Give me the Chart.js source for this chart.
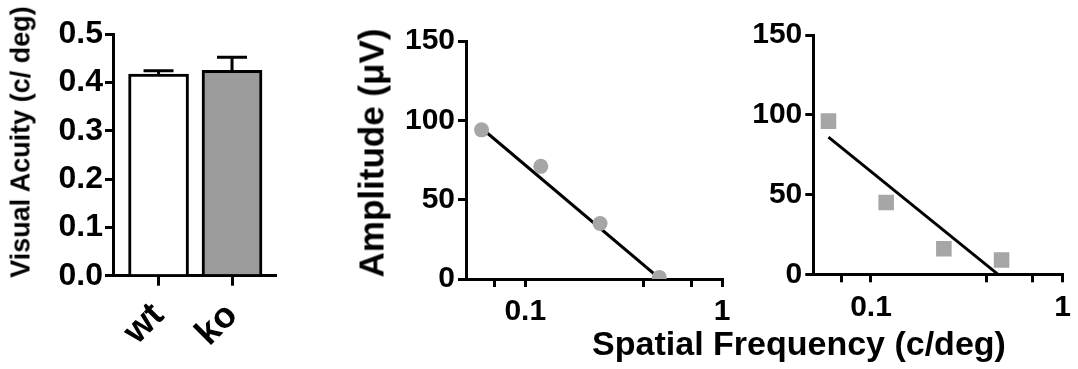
<!DOCTYPE html>
<html lang="en">
<head>
<meta charset="UTF-8">
<title>Visual Acuity and Amplitude</title>
<script src="https://cdn.jsdelivr.net/npm/chart.js"></script>
<style>
  body {
    margin: 0;
    background: #fff;
    width: 1078px;
    height: 369px;
    position: relative;
    overflow: hidden;
    font-family: "Liberation Sans", Arial, sans-serif;
  }
  canvas { position: absolute; top: 0; }
  .title {
    position: absolute;
    font-weight: bold;
    white-space: nowrap;
    line-height: 1;
    color: #000;
  }
  .rot { transform: translate(-50%, -50%) rotate(-90deg); }
</style>
</head>
<body>

<canvas id="acuityChart" width="300" height="369" style="left:0"></canvas>
<canvas id="wtChart" width="400" height="369" style="left:340px"></canvas>
<canvas id="koChart" width="338" height="369" style="left:740px"></canvas>

<div class="title rot" style="left:21px; top:142px; font-size:27px">Visual Acuity (c/ deg)</div>
<div class="title rot" style="left:371px; top:153px; font-size:35px">Amplitude (μV)</div>
<div class="title" style="left:799px; top:326px; font-size:34px; transform:translateX(-50%)">Spatial Frequency (c/deg)</div>

<script>
  // bar panel
  const groups = ['wt', 'ko'];
  const acuity = [0.417, 0.425];
  const acuityErr = [0.007, 0.027];
  const acuityTicks = [0, 0.1, 0.2, 0.3, 0.4, 0.5];

  // amplitude panels
  const freqs = [0.06, 0.12, 0.24, 0.48];
  const wtAmp = [94, 71, 35, 1];
  const koAmp = [96, 45, 16, 9];
  const wtFitX = [0.06, 0.48];
  const wtFitY = [95, 0.5];
  const koFitX = [0.06, 0.46];
  const koFitY = [86, 0];
  const freqTicks = [0.07, 0.1, 0.4, 0.7, 1];
  const freqLabels = { 0.1: '0.1', 1: '1' };
  const ampTicks = [0, 50, 100, 150];

  const FONT = '"Liberation Sans", Arial, sans-serif';
  Chart.defaults.color = '#000';

  function fixSize(size) {
    return scale => {
      if (scale.isHorizontal()) scale.height = size;
      else scale.width = size;
    };
  }

  function axisLines(tickLength) {
    return {
      grid: { drawOnChartArea: false, drawTicks: true, color: '#000', lineWidth: 3, tickLength: tickLength, offset: false },
      border: { color: '#000', width: 3 }
    };
  }

  const errorBars = {
    id: 'errorBars',
    afterDatasetsDraw(chart) {
      const { ctx, scales: { x, y } } = chart;
      ctx.save();
      ctx.strokeStyle = '#000';
      ctx.lineWidth = 3;
      acuity.forEach((v, i) => {
        const px = x.getPixelForValue(i);
        const base = y.getPixelForValue(v);
        const top = y.getPixelForValue(v + acuityErr[i]);
        ctx.beginPath();
        ctx.moveTo(px, base);
        ctx.lineTo(px, top);
        ctx.moveTo(px - 15, top);
        ctx.lineTo(px + 15, top);
        ctx.stroke();
      });
      ctx.restore();
    }
  };

  new Chart(document.getElementById('acuityChart'), {
    type: 'bar',
    data: {
      datasets: [{
        data: groups.map((g, i) => ({ x: i, y: acuity[i] })),
        backgroundColor: ['#ffffff', '#9b9b9b'],
        borderColor: '#000',
        borderWidth: 3,
        barThickness: 60
      }]
    },
    options: {
      responsive: false,
      animation: false,
      devicePixelRatio: 1,
      layout: { padding: { top: 34, right: 25, bottom: 0, left: 0 } },
      plugins: { legend: { display: false }, tooltip: { enabled: false } },
      scales: {
        x: {
          type: 'linear',
          min: -0.62,
          max: 1.585,
          offset: false,
          afterBuildTicks: s => { s.ticks = groups.map((g, i) => ({ value: i })); },
          afterFit: fixSize(93.3),
          ...axisLines(10),
          ticks: {
            autoSkip: false,
            minRotation: 45,
            maxRotation: 45,
            padding: 9,
            font: { family: FONT, size: 36, weight: 'bold' },
            callback: v => groups[v]
          }
        },
        y: {
          min: 0,
          max: 0.5,
          afterBuildTicks: s => { s.ticks = acuityTicks.map(v => ({ value: v })); },
          afterFit: fixSize(113),
          ...axisLines(8),
          ticks: {
            padding: 2,
            font: { family: FONT, size: 32, weight: 'bold' },
            callback: v => v.toFixed(1)
          }
        }
      }
    },
    plugins: [errorBars]
  });

  function ampChart(id, amps, fitX, fitY, pointStyle, radius, opts) {
    return new Chart(document.getElementById(id), {
      type: 'scatter',
      data: {
        datasets: [{
          data: freqs.map((f, i) => ({ x: f, y: amps[i] })),
          pointStyle: pointStyle,
          radius: radius,
          backgroundColor: '#a6a6a6',
          borderWidth: 0
        }, {
          type: 'line',
          data: fitX.map((f, i) => ({ x: f, y: fitY[i] })),
          borderColor: '#000',
          borderWidth: 3,
          pointRadius: 0,
          fill: false
        }]
      },
      options: {
        responsive: false,
        animation: false,
        devicePixelRatio: 1,
        layout: { padding: { top: opts.top, right: opts.right, bottom: 0, left: 0 } },
        plugins: { legend: { display: false }, tooltip: { enabled: false } },
        scales: {
          x: {
            type: 'logarithmic',
            min: 0.05,
            max: 1,
            afterBuildTicks: s => { s.ticks = freqTicks.map(v => ({ value: v })); },
            afterFit: fixSize(opts.xHeight),
            ...axisLines(8),
            ticks: {
              autoSkip: false,
              maxRotation: 0,
              padding: 7,
              font: { family: FONT, size: 30, weight: 'bold' },
              callback: v => freqLabels[v] || ''
            }
          },
          y: {
            min: 0,
            max: 150,
            afterBuildTicks: s => { s.ticks = ampTicks.map(v => ({ value: v })); },
            afterFit: fixSize(opts.yWidth),
            ...axisLines(8),
            ticks: {
              padding: 3,
              font: { family: FONT, size: 30, weight: 'bold' },
              callback: v => String(v)
            }
          }
        }
      }
    });
  }

  ampChart('wtChart', wtAmp, wtFitX, wtFitY, 'circle', 7.5, { top: 41, right: 18, xHeight: 90, yWidth: 126 });
  ampChart('koChart', koAmp, koFitX, koFitY, 'rect', 11, { top: 35, right: 8.7, xHeight: 94.7, yWidth: 73.3 });
</script>

</body>
</html>
